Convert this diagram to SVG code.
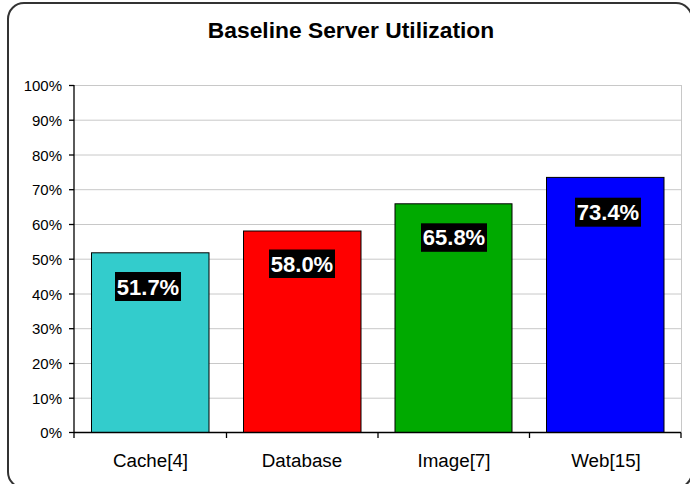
<svg xmlns="http://www.w3.org/2000/svg" width="690" height="484" viewBox="0 0 690 484">
<style>
.ax{font-family:"Liberation Sans",Arial,sans-serif;font-size:15px;fill:#000;text-anchor:end}
.cat{font-family:"Liberation Sans",Arial,sans-serif;font-size:18.8px;fill:#000;text-anchor:middle}
.val{font-family:"Liberation Sans",Arial,sans-serif;font-size:22px;font-weight:bold;fill:#fff;text-anchor:middle}
.grid{stroke:#c8c8c8;stroke-width:1}
.bar{stroke:#000;stroke-width:1}
.lbl{fill:#000}
</style>
<rect x="8" y="3" width="684" height="485" rx="16" fill="#fff" stroke="#333" stroke-width="2"/>
<text x="351" y="38" font-family="Liberation Sans,Arial,sans-serif" font-size="22.8" font-weight="bold" text-anchor="middle">Baseline Server Utilization</text>
<g id="grid">
<line class="grid" x1="74" y1="85.5" x2="681" y2="85.5"/>
<line class="grid" x1="74" y1="120.2" x2="681" y2="120.2"/>
<line class="grid" x1="74" y1="155" x2="681" y2="155"/>
<line class="grid" x1="74" y1="189.7" x2="681" y2="189.7"/>
<line class="grid" x1="74" y1="224.5" x2="681" y2="224.5"/>
<line class="grid" x1="74" y1="259.2" x2="681" y2="259.2"/>
<line class="grid" x1="74" y1="294" x2="681" y2="294"/>
<line class="grid" x1="74" y1="328.7" x2="681" y2="328.7"/>
<line class="grid" x1="74" y1="363.5" x2="681" y2="363.5"/>
<line class="grid" x1="74" y1="398.2" x2="681" y2="398.2"/>
<line class="grid" x1="681.5" y1="85" x2="681.5" y2="432.5"/>
</g>
<g id="bar-cache">
<rect class="bar" x="91.5" y="252.8" width="117.5" height="179.7" fill="#33CCCC"/>
<rect class="lbl" x="115" y="272" width="66" height="29"/>
<text class="val" x="148" y="294.5">51.7%</text>
</g>
<g id="bar-database">
<rect class="bar" x="243.5" y="231" width="117.5" height="201.5" fill="#FF0000"/>
<rect class="lbl" x="269" y="249.5" width="66" height="28.5"/>
<text class="val" x="302" y="271.5">58.0%</text>
</g>
<g id="bar-image">
<rect class="bar" x="395" y="203.8" width="117" height="228.7" fill="#00AA00"/>
<rect class="lbl" x="421" y="223.3" width="66" height="28.5"/>
<text class="val" x="454" y="245.3">65.8%</text>
</g>
<g id="bar-web">
<rect class="bar" x="546.5" y="177.4" width="117.5" height="255.1" fill="#0000FF"/>
<rect class="lbl" x="575" y="197.7" width="66" height="29"/>
<text class="val" x="608" y="220">73.4%</text>
</g>
<g id="axes" stroke="#000" stroke-width="1.3">
<line x1="74" y1="85" x2="74" y2="433"/>
<line x1="74" y1="432.5" x2="681" y2="432.5"/>
<line x1="69" y1="85.5" x2="74" y2="85.5"/>
<line x1="69" y1="120.2" x2="74" y2="120.2"/>
<line x1="69" y1="155" x2="74" y2="155"/>
<line x1="69" y1="189.7" x2="74" y2="189.7"/>
<line x1="69" y1="224.5" x2="74" y2="224.5"/>
<line x1="69" y1="259.2" x2="74" y2="259.2"/>
<line x1="69" y1="294" x2="74" y2="294"/>
<line x1="69" y1="328.7" x2="74" y2="328.7"/>
<line x1="69" y1="363.5" x2="74" y2="363.5"/>
<line x1="69" y1="398.2" x2="74" y2="398.2"/>
<line x1="69" y1="432.5" x2="74" y2="432.5"/>
<line x1="74" y1="432.5" x2="74" y2="438"/>
<line x1="226.5" y1="432.5" x2="226.5" y2="438"/>
<line x1="378" y1="432.5" x2="378" y2="438"/>
<line x1="529.5" y1="432.5" x2="529.5" y2="438"/>
<line x1="681" y1="432.5" x2="681" y2="438"/>
</g>
<g id="y-labels">
<text class="ax" x="62" y="91">100%</text>
<text class="ax" x="62" y="125.7">90%</text>
<text class="ax" x="62" y="160.5">80%</text>
<text class="ax" x="62" y="195.2">70%</text>
<text class="ax" x="62" y="230">60%</text>
<text class="ax" x="62" y="264.7">50%</text>
<text class="ax" x="62" y="299.5">40%</text>
<text class="ax" x="62" y="334.2">30%</text>
<text class="ax" x="62" y="369">20%</text>
<text class="ax" x="62" y="403.7">10%</text>
<text class="ax" x="62" y="438">0%</text>
</g>
<g id="x-labels">
<text class="cat" x="150.5" y="467">Cache[4]</text>
<text class="cat" x="302" y="467">Database</text>
<text class="cat" x="454" y="467">Image[7]</text>
<text class="cat" x="606" y="467">Web[15]</text>
</g>
</svg>
